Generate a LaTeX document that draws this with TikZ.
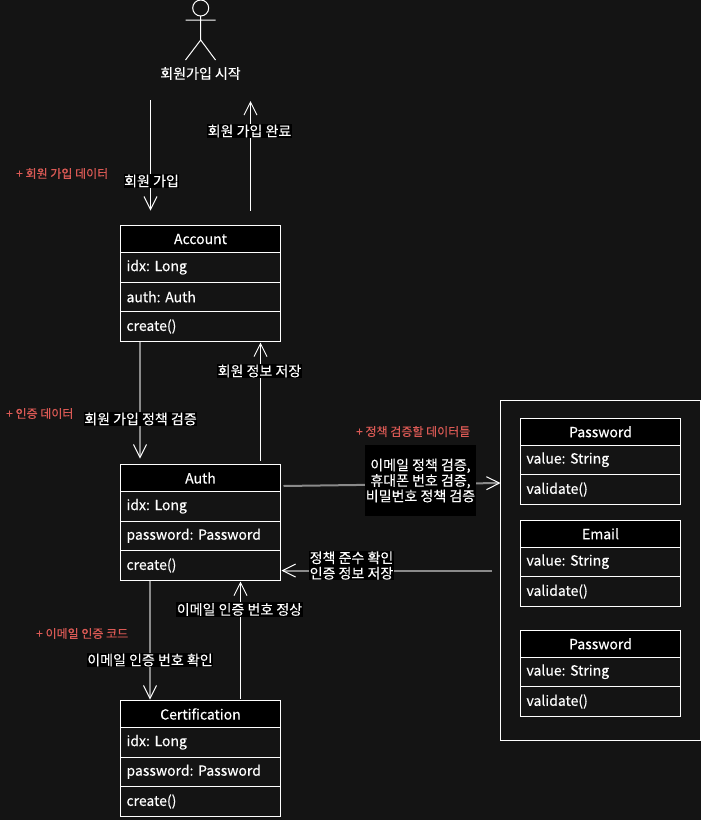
\documentclass[tikz,border=0pt]{standalone}
\usepackage{fontspec}
\setmainfont[FakeBold=0.25]{Noto Sans CJK KR}
\usetikzlibrary{arrows.meta,calc}
\definecolor{bgc}{HTML}{141414}
\definecolor{redc}{HTML}{DB5A55}
\definecolor{grayc}{HTML}{8A8A8A}
\frenchspacing
\tikzset{
  titlebox/.style={draw=white,fill=black,text=white,line width=1pt,outer sep=0pt,inner sep=0pt,minimum width=160pt,minimum height=#1,anchor=north west,font=\fontsize{14}{16}\selectfont},
  rowbox/.style={draw=white,text=white,line width=1pt,outer sep=0pt,inner xsep=6pt,inner ysep=0pt,text width=148pt,align=left,minimum height=#1,anchor=north west,font=\fontsize{14}{16}\selectfont},
  arr/.style={draw=white,line width=1pt,-{Straight Barb[length=13pt,width=13pt,line width=1pt]}},
  garr/.style={draw=grayc,line width=2pt,-{Straight Barb[length=13pt,width=13pt,line width=1pt,color=white]}},
  lbl/.style={fill=black,text=white,inner xsep=0.5pt,inner ysep=1pt,align=center,font=\fontsize{14}{15.5}\selectfont},
  redlbl/.style={text=redc,inner sep=0pt,font=\fontsize{12}{14}\selectfont},
  limb/.style={draw=white,line width=1pt},
}
% \classbox{prefix}{x}{y}{title}{row1}{row2}{row3}
\newcommand{\classbox}[7]{%
  \node[titlebox=27pt] (#1t) at (#2,#3) {#4};
  \node[rowbox=29.5pt] (#1a) at (#1t.south west) {#5};
  \node[rowbox=29.5pt] (#1b) at (#1a.south west) {#6};
  \node[rowbox=30pt] (#1c) at (#1b.south west) {#7};
}
% \valuebox{prefix}{x}{y}{title}{row1}{row2}
\newcommand{\valuebox}[6]{%
  \node[titlebox=26.5pt] (#1t) at (#2,#3) {#4};
  \node[rowbox=29.5pt] (#1a) at (#1t.south west) {\raisebox{-1pt}{#5}};
  \node[rowbox=30pt] (#1b) at (#1a.south west) {\raisebox{-1pt}{#6}};
}
\begin{document}
\begin{tikzpicture}[x=1pt,y=-1pt]
\useasboundingbox (0,0) rectangle (701,820);
\fill[bgc] (0,0) rectangle (701,820);
% actor
\node[draw=white,line width=1pt,circle,minimum size=16pt,inner sep=0pt,outer sep=0pt] (head) at (200.7,8) {};
\coordinate (neck) at (200.7,16);
\coordinate (armL) at (185.5,20);
\coordinate (armR) at (215.5,20);
\coordinate (hip) at (200.7,40);
\coordinate (legL) at (185.5,60);
\coordinate (legR) at (215.5,60);
\draw[limb] (head.south) -- (hip) (armL) -- (armR) (legL) -- (hip) -- (legR);
\node[text=white,inner sep=0pt,font=\fontsize{14}{16}\selectfont] (start) at (200.5,73.5) {회원가입 시작};
% container
\node[draw=white,line width=1pt,minimum width=200pt,minimum height=340pt,anchor=north west,outer sep=0pt,inner sep=0pt] (group) at (500.5,400.5) {};
% classes
\classbox{acc}{120.5}{225.5}{Account}{idx: Long}{auth: Auth}{create()}
\classbox{aut}{120.5}{464.5}{Auth}{idx: Long}{password: Password}{create()}
\classbox{cer}{120.5}{700.5}{Certification}{idx: Long}{password: Password}{create()}
\valuebox{pw}{520.5}{418.5}{Password}{value: String}{validate()}
\valuebox{em}{520.5}{520.5}{Email}{value: String}{validate()}
\valuebox{pb}{520.5}{630.5}{Password}{value: String}{validate()}
% connectors
\coordinate (s1) at ([xshift=-50pt]start.south |- 0,100);
\coordinate (s2) at ([xshift=50pt]start.south |- 0,101);
\draw[arr] (s1) -- ([xshift=-50pt,yshift=15pt]acct.north);
\draw[arr] ([xshift=50pt,yshift=15pt]acct.north) -- (s2);
\draw[garr] ([xshift=-60.5pt]accc.south) -- ([xshift=-60.5pt,yshift=6pt]autt.north);
\draw[arr] ([xshift=60pt,yshift=4pt]autt.north) -- ([xshift=60pt,yshift=-1pt]accc.south);
\draw[garr] ([xshift=3pt,yshift=-8pt]autt.east) -- ([yshift=-8.5pt]group.west |- pwb.north);
\draw[garr] ([xshift=-8.5pt,yshift=-5pt]group.west |- autc.center) -- ([xshift=1pt,yshift=-5pt]autc.east);
\draw[garr] ([xshift=-50.5pt]autc.south) -- ([xshift=-50.5pt,yshift=1pt]cert.north);
\draw[arr] ([xshift=40pt,yshift=2pt]cert.north) -- ([xshift=40pt,yshift=-1pt]autc.south);
% connector labels
\node[lbl] (l1) at (151.5,181) {회원 가입};
\node[lbl] (l2) at (249.5,131) {회원 가입 완료};
\node[lbl] (l3) at (140.5,419) {회원 가입 정책 검증};
\node[lbl] (l4) at (259.5,371) {회원 정보 저장};
\node[lbl,minimum width=109pt,minimum height=71pt] (l5) at (420.5,480.5) {이메일 정책 검증,\\휴대폰 번호 검증,\\비밀번호 정책 검증};
\node[lbl,inner ysep=0.5pt] (l6) at (351.5,565.5) {정책 준수 확인\\인증 정보 저장};
\node[lbl] (l7) at (150,660) {이메일 인증 번호 확인};
\node[lbl] (l8) at (239.5,609.5) {이메일 인증 번호 정상};
% data notes
\node[redlbl,anchor=west] (n1) at (16,173.5) {+ 회원 가입 데이터};
\node[redlbl,anchor=west] (n2) at (6,413.5) {+ 인증 데이터};
\node[redlbl,anchor=west] (n3) at (356,431.5) {+ 정책 검증할 데이터들};
\node[redlbl,anchor=west] (n4) at (36,633.5) {+ 이메일 인증 코드};
\end{tikzpicture}
\end{document}
